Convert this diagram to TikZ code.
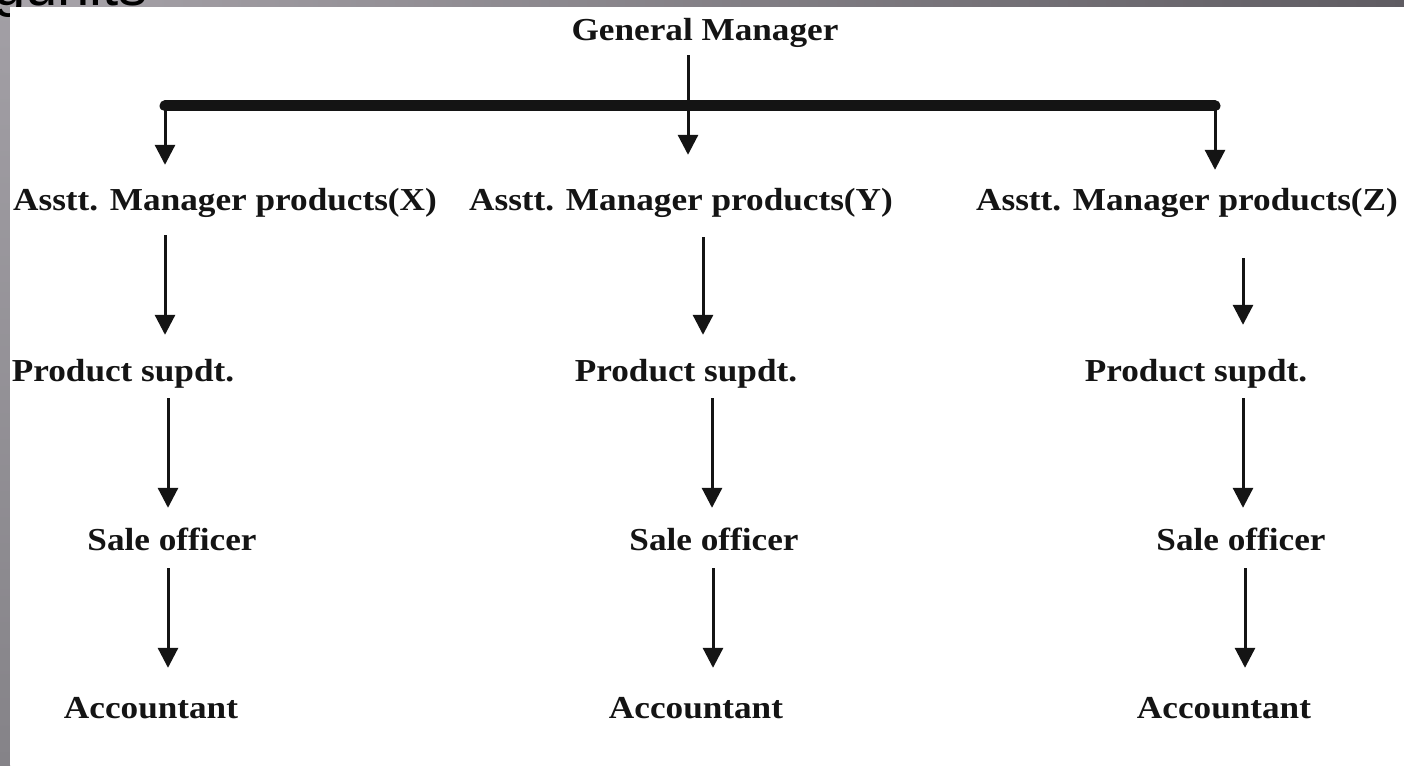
\documentclass[tikz,border=0pt]{standalone}
\usepackage{fontspec}
\setmainfont{Liberation Serif}[FakeStretch=1.1]
\newfontfamily\headfont{Liberation Sans}
\usetikzlibrary{arrows.meta}

\definecolor{barlight}{HTML}{A9A5AB}
\definecolor{bardark}{HTML}{5F5C62}
\definecolor{sidetop}{HTML}{A29FA5}
\definecolor{sidebot}{HTML}{858388}
\definecolor{ink}{HTML}{141414}

\begin{document}
\begin{tikzpicture}[x=1pt,y=-1pt,
  lbl/.style={font=\fontsize{32}{38}\selectfont\bfseries, text=ink,
    inner sep=0pt, anchor=base, text height=21pt, text depth=7pt},
  arr/.style={draw=ink, line width=3pt, -{Triangle[width=20pt,length=20pt]}},
  bus/.style={draw=ink, line width=11pt, line cap=round}]
\useasboundingbox (0,0) rectangle (1404,765);

% slide frame: shaded top strip and side strip
\shade[left color=barlight, right color=bardark] (0,0) rectangle (1404,7);
\shade[top color=sidetop, bottom color=sidebot] (0,7) rectangle (10,765);
\node[font=\headfont\fontsize{58}{60}\selectfont, text=black, inner sep=0pt,
  anchor=base east] (ttl) at (148,6) {gunits};
\fill[white] (10,7) rectangle (1404,765);

% nodes
\node[lbl] (gm) at (705,41) {General Manager};

\node[lbl] (ax) at (225,210) {Asstt. Manager products(X)};
\node[lbl] (ay) at (681,210) {Asstt. Manager products(Y)};
\node[lbl] (az) at (1187,210) {Asstt. Manager products(Z)};

\node[lbl] (px) at (123,381) {Product supdt.};
\node[lbl] (py) at (686,381) {Product supdt.};
\node[lbl] (pz) at (1196,381) {Product supdt.};

\node[lbl] (sx) at (172,550) {Sale officer};
\node[lbl] (sy) at (714,550) {Sale officer};
\node[lbl] (sz) at (1241,550) {Sale officer};

\node[lbl] (cx) at (151,718) {Accountant};
\node[lbl] (cy) at (696,718) {Accountant};
\node[lbl] (cz) at (1224,718) {Accountant};

% horizontal bus
\coordinate (barL) at (165,106);
\coordinate (barR) at (1215,106);
\draw[bus] (barL) -- (barR);

% connectors from the general manager
\draw[arr, shorten <=7pt, shorten >=34pt] (gm.south -| 688,0) -- (ay.north -| 688,0);
\draw[arr, shorten >=24pt] (barL) -- (ax.north -| barL);
\draw[arr, shorten >=19pt] (barR) -- (az.north -| barR);

% assistant managers to product superintendents
\draw[arr, shorten <=18pt, shorten >=25pt] (ax.south -| 165,0) -- (px.north -| 165,0);
\draw[arr, shorten <=20pt, shorten >=25pt] (ay.south -| 703,0) -- (py.north -| 703,0);
\draw[arr, shorten <=41pt, shorten >=35pt] (az.south -| 1243,0) -- (pz.north -| 1243,0);

% product superintendents to sale officers
\draw[arr, shorten <=10pt, shorten >=21pt] (px.south -| 168,0) -- (sx.north -| 168,0);
\draw[arr, shorten <=10pt, shorten >=21pt] (py.south -| 712,0) -- (sy.north -| 712,0);
\draw[arr, shorten <=10pt, shorten >=21pt] (pz.south -| 1243,0) -- (sz.north -| 1243,0);

% sale officers to accountants
\draw[arr, shorten <=11pt, shorten >=29pt] (sx.south -| 168,0) -- (cx.north -| 168,0);
\draw[arr, shorten <=11pt, shorten >=29pt] (sy.south -| 713,0) -- (cy.north -| 713,0);
\draw[arr, shorten <=11pt, shorten >=29pt] (sz.south -| 1245,0) -- (cz.north -| 1245,0);
\end{tikzpicture}
\end{document}
